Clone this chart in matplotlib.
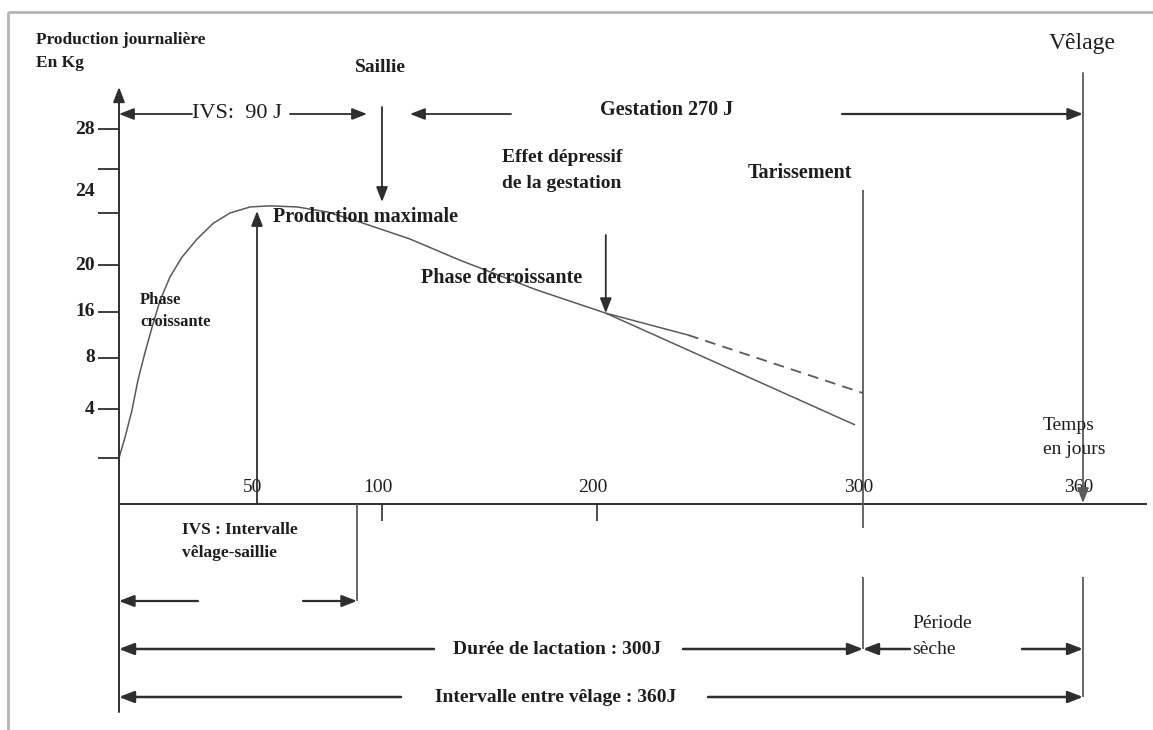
import numpy as np
import matplotlib.pyplot as plt

plt.rcParams['font.family'] = ['Liberation Serif', 'DejaVu Serif']

# lactation curve: days after calving / daily production (kg)
curve_days = [0, 2.2, 4.7, 6.9, 9.4, 12.0, 14.9, 18.5, 22.8, 28.3, 34.1, 40.2,
              47.5, 55.2, 66, 78, 91.2, 113, 135.8, 171.6, 203.3, 297]
curve_kg = [0, 1.7, 3.9, 6.3, 8.9, 13.4, 17.0, 19.0, 20.3, 21.0, 21.6, 22.0,
            22.55, 22.65, 22.55, 22.1, 21.65, 21.0, 20.2, 17.9, 15.8, 2.7]

# curve without the depressive effect of gestation
gest_days = [203.3, 234.2, 300]
gest_kg = [15.8, 12.0, 5.25]

x_ticks = [50, 100, 200, 300, 360]
x_minor = [100, 200]
y_tick_marks = [0, 4, 8, 16, 20, 22, 26, 28]
y_tick_labels = [4, 8, 16, 20, 24, 28]

peak_day = 50
ivs_day = 90
saillie_day = 100
effect_day = 203.3
effect_kg = 15.8
tarissement_day = 300
velage_day = 360

# schematic axes are not linear: piecewise mapping tick value -> pixel
W, H = 1153, 730
DAY_KNOTS = [0, 50, 100, 200, 300, 360]
DAY_PX = [119, 257, 382, 597, 863, 1083]
KG_KNOTS = [0, 4, 8, 16, 20, 22, 26, 28]
KG_PX = [458, 409, 358, 312, 265, 213, 169, 129]


def piecewise(xk, yk):
    xk = np.asarray(xk, float)
    yk = np.asarray(yk, float)
    s0 = (yk[1] - yk[0]) / (xk[1] - xk[0])
    s1 = (yk[-1] - yk[-2]) / (xk[-1] - xk[-2])

    def f(v):
        v = np.asarray(v, float)
        out = np.interp(v, xk, yk)
        out = np.where(v < xk[0], yk[0] + (v - xk[0]) * s0, out)
        out = np.where(v > xk[-1], yk[-1] + (v - xk[-1]) * s1, out)
        return out
    return f


day_to_px = piecewise(DAY_KNOTS, DAY_PX)
px_to_day = piecewise(DAY_PX, DAY_KNOTS)
kg_h = H - np.array(KG_PX, float)
kg_to_h = piecewise(KG_KNOTS, kg_h)
h_to_kg = piecewise(kg_h, KG_KNOTS)


def X(px):
    return float(px_to_day(px))


def Y(py):
    return float(h_to_kg(H - py))


fig = plt.figure(figsize=(W / 100, H / 100), dpi=100)
ax = fig.add_axes([0, 0, 1, 1])
ax.set_xscale('function', functions=(day_to_px, px_to_day))
ax.set_yscale('function', functions=(kg_to_h, h_to_kg))
ax.set_xlim(X(0), X(W))
ax.set_ylim(Y(H), Y(0))
ax.axis('off')

DARK = '#2e2e2e'
GREY = '#5a5a5a'


def arrow(x0, y0, x1, y1, lw=1.4, color=DARK):
    ax.annotate('', xy=(x1, y1), xytext=(x0, y0),
                arrowprops=dict(arrowstyle='-|>,head_length=0.9,head_width=0.35',
                                mutation_scale=10, lw=lw, color=color,
                                shrinkA=0, shrinkB=0))


def line(xs, ys, lw=1.4, color=DARK, **kw):
    ax.plot(xs, ys, lw=lw, color=color, solid_capstyle='butt', clip_on=False, **kw)


def label(x, y, s, size=14, weight='bold', ha='left', **kw):
    ax.text(x, y, s, fontsize=size, fontweight=weight, ha=ha, va='center',
            color='#1e1e1e', **kw)


# frame
line([X(8), X(W)], [Y(12), Y(12)], lw=2, color='#b4b4b4')
line([X(8), X(8)], [Y(12), Y(H)], lw=2, color='#b4b4b4')

# axes
arrow(0, Y(712), 0, Y(87))
line([0, X(1147)], [Y(504), Y(504)])
ax.hlines(y_tick_marks, X(98), 0, color=DARK, lw=1.3)
for v in y_tick_labels:
    label(X(95), v, str(v), size=14, ha='right')
for d in x_ticks:
    ax.annotate(str(d), (d, Y(488)), xytext=(-3, 0), textcoords='offset points',
                fontsize=14, ha='center', va='center', color='#1e1e1e')
for d in x_minor:
    line([d, d], [Y(504), Y(521)], lw=1.2)

# curves
line(curve_days, curve_kg, lw=1.1, color=GREY)
line(gest_days[:2], gest_kg[:2], lw=1.1, color=GREY)
line(gest_days[1:], gest_kg[1:], lw=1.3, color=GREY, linestyle=(0, (6, 4)))

# vertical markers
arrow(peak_day, Y(504), peak_day, Y(211), lw=1.3)
arrow(saillie_day, Y(107), saillie_day, Y(202), lw=1.3)
arrow(effect_day, Y(235), effect_day, effect_kg, lw=1.3)
line([tarissement_day] * 2, [Y(190), Y(528)], lw=1.3, color=GREY)
line([tarissement_day] * 2, [Y(577), Y(649)], lw=1.3, color=GREY)
arrow(velage_day, Y(73), velage_day, Y(503), lw=1.3, color=GREY)
line([velage_day] * 2, [Y(577), Y(697)], lw=1.3, color=GREY)
line([ivs_day] * 2, [Y(504), Y(601)], lw=1.3, color=GREY)

# top spans
arrow(X(192), Y(114), 0, Y(114), lw=1.3)
label(X(237), Y(113), 'IVS:  90 J', size=16, weight='normal', ha='center')
arrow(X(290), Y(114), X(367), Y(114), lw=1.3)
arrow(X(511), Y(114), X(410), Y(114), lw=1.3)
label(X(600), Y(110), 'Gestation 270 J', size=14.5)
arrow(X(842), Y(114), velage_day, Y(114), lw=1.6)

# bottom spans
arrow(X(198), Y(601), 0, Y(601), lw=1.6)
arrow(X(303), Y(601), ivs_day, Y(601), lw=1.6)
arrow(X(434), Y(649), 0, Y(649), lw=1.8)
label(X(557), Y(649), 'Durée de lactation : 300J', size=14, ha='center')
arrow(X(683), Y(649), tarissement_day, Y(649), lw=1.8)
arrow(X(910), Y(649), tarissement_day, Y(649), lw=1.8)
arrow(X(1022), Y(649), velage_day, Y(649), lw=1.8)
arrow(X(401), Y(697), 0, Y(697), lw=1.8)
label(X(556), Y(697), 'Intervalle entre vêlage : 360J', size=14, ha='center')
arrow(X(708), Y(697), velage_day, Y(697), lw=1.8)

# texts
label(X(36), Y(40), 'Production journalière', size=12.5)
label(X(36), Y(63), 'En Kg', size=12.5)
label(X(380), Y(68), 'Saillie', size=14, ha='center')
label(X(1082), Y(43), 'Vêlage', size=17, weight='normal', ha='center')
label(X(502), Y(157), 'Effet dépressif', size=14)
label(X(502), Y(183), 'de la gestation', size=14)
label(X(748), Y(173), 'Tarissement', size=14.5)
label(X(273), Y(217), 'Production maximale', size=14.5)
label(X(140), Y(300), 'Phase', size=12)
label(X(140), Y(322), 'croissante', size=12)
label(X(421), Y(278), 'Phase décroissante', size=14.5)
label(X(1043), Y(425), 'Temps', size=14, weight='normal')
label(X(1043), Y(449), 'en jours', size=14, weight='normal')
label(X(182), Y(530), 'IVS : Intervalle', size=12.5)
label(X(182), Y(553), 'vêlage-saillie', size=12.5)
label(X(912), Y(623), 'Période', size=14, weight='normal')
label(X(912), Y(650), 'sèche', size=14, weight='normal')

fig.savefig('out.png', dpi=100)
